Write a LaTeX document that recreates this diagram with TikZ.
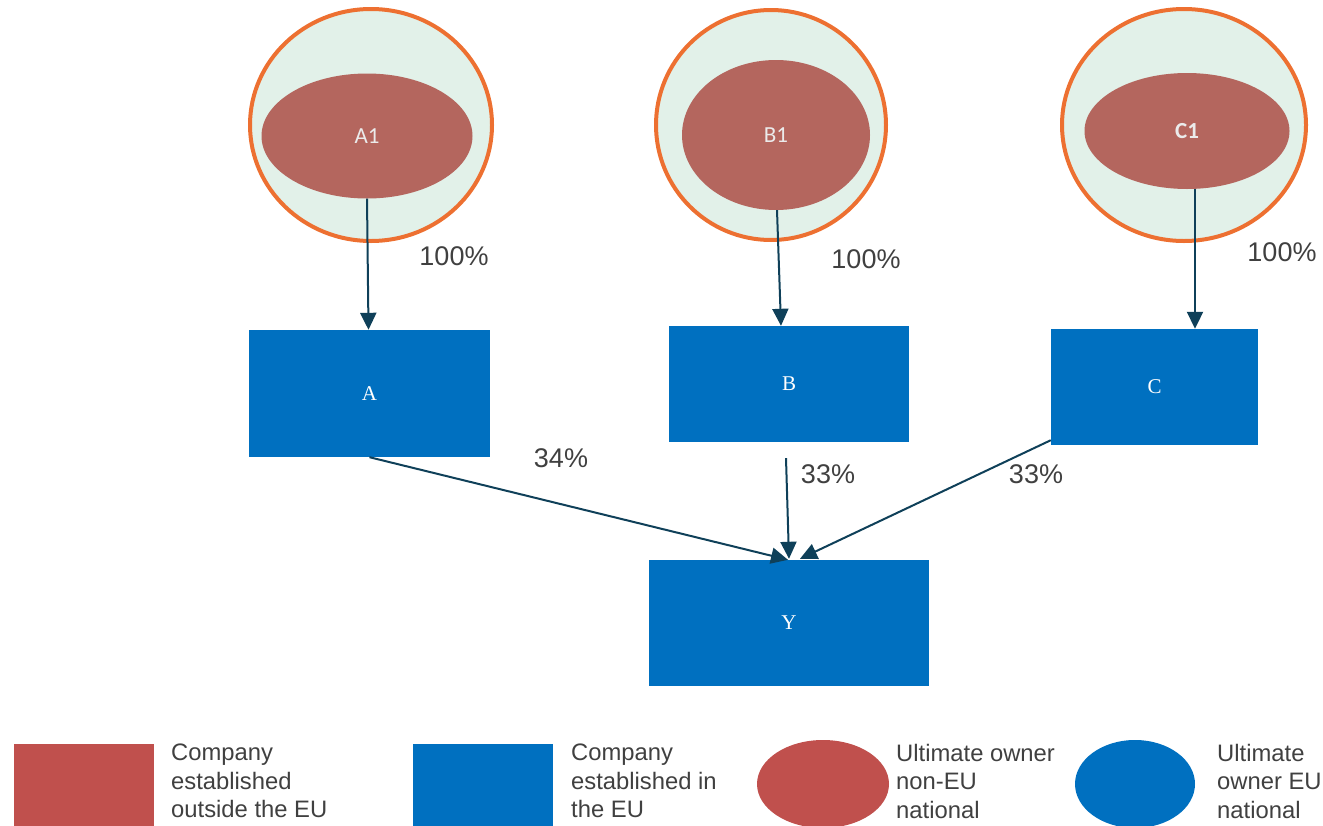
\documentclass[tikz,border=0pt]{standalone}
\usepackage{fontspec}
\setmainfont{Liberation Serif}
\setsansfont{Liberation Sans}
\newfontfamily\calib{Carlito}
\usetikzlibrary{shapes.geometric,arrows.meta,calc}
\definecolor{orangeline}{HTML}{ED7031}
\definecolor{mintfill}{HTML}{E2F1E9}
\definecolor{innerred}{HTML}{B4665E}
\definecolor{eublue}{HTML}{0070C0}
\definecolor{legred}{HTML}{C0504D}
\definecolor{arrowc}{HTML}{0F4059}
\definecolor{txtgrey}{HTML}{404040}
\tikzset{
  outerowner/.style={draw=orangeline, line width=4pt, fill=mintfill, ellipse, inner sep=0pt},
  innerowner/.style={fill=innerred, ellipse, inner sep=0pt, text=white!92!black, font=\calib\fontsize{23}{27}\selectfont},
  eubox/.style={fill=eublue, inner sep=0pt, text=white, font=\fontsize{21}{25}\selectfont},
  own/.style={draw=arrowc, line width=2pt, -{Triangle[length=17pt,width=16pt]}},
  pct/.style={text=txtgrey, font=\sffamily\fontsize{27}{32}\selectfont, inner sep=0pt},
  legtext/.style={text=txtgrey, font=\sffamily\fontsize{23.8}{28.5}\selectfont, align=left, anchor=north west, inner sep=0pt},
}
\begin{document}
\begin{tikzpicture}[x=1pt,y=-1pt]
\useasboundingbox (0,0) rectangle (1323,825);
% owners
\node[outerowner, minimum width=242pt, minimum height=232pt] (oa) at (371,125) {};
\node[innerowner, minimum width=211pt, minimum height=125pt] (a1) at (367,136) {A1};
\node[outerowner, minimum width=230pt, minimum height=230pt] (ob) at (771,125) {};
\node[innerowner, minimum width=188pt, minimum height=150pt] (b1) at (776,135) {B1};
\node[outerowner, minimum width=244pt, minimum height=232pt] (oc) at (1184,125) {};
\node[innerowner, minimum width=205pt, minimum height=116pt, font=\calib\bfseries\fontsize{23}{27}\selectfont] (c1) at (1187,131) {C1};
% companies
\node[eubox, minimum width=241pt, minimum height=127pt] (a) at (369.5,393.5) {A};
\node[eubox, minimum width=240pt, minimum height=116pt] (b) at (789,384) {B};
\node[eubox, minimum width=207pt, minimum height=116pt] (c) at (1154.5,387) {C};
\node[eubox, minimum width=280pt, minimum height=126pt] (y) at (789,623) {Y};
% ownership arrows
\draw[own] (a1.south) -- ($(a.north)+(-1,0)$);
\draw[own] ($(b1.south)+(1,0)$) -- ($(b.north)+(-8,0)$);
\draw[own] ($(c1.south)+(8,0)$) -- ($(c.north)+(40.5,0)$);
\coordinate (bstart) at ($(b.south)+(-3,16)$);
\draw[own] (a.south) -- ($(y.north)+(-1,0)$);
\draw[own] (bstart) -- ($(y.north)+(0,-1)$);
\draw[own] ($(c.south west)+(0,-5)$) -- ($(y.north)+(11,-1)$);
% labels
\node[pct] (pa) at (454,256) {100\%};
\node[pct] (pb) at (866,259) {100\%};
\node[pct] (pc) at (1282,252) {100\%};
\node[pct] (pay) at (561,458) {34\%};
\node[pct] (pby) at (828,474) {33\%};
\node[pct] (pcy) at (1036,474) {33\%};
% legend
\node[fill=legred, minimum width=140pt, minimum height=90pt, inner sep=0pt, anchor=north west] (l1) at (14,744) {};
\node[legtext] (t1) at (171,744) {Company\\established\\outside the EU};
\node[fill=eublue, minimum width=140pt, minimum height=90pt, inner sep=0pt, anchor=north west] (l2) at (413,744) {};
\node[legtext] (t2) at (571,744) {Company\\established in\\the EU};
\node[fill=legred, ellipse, minimum width=132pt, minimum height=88pt, inner sep=0pt] (l3) at (823,784) {};
\node[legtext] (t3) at (896,744) {Ultimate owner\\non-EU\\national};
\node[fill=eublue, ellipse, minimum width=120pt, minimum height=88pt, inner sep=0pt] (l4) at (1135,784) {};
\node[legtext] (t4) at (1217,744) {Ultimate\\owner EU\\national};
\end{tikzpicture}
\end{document}
